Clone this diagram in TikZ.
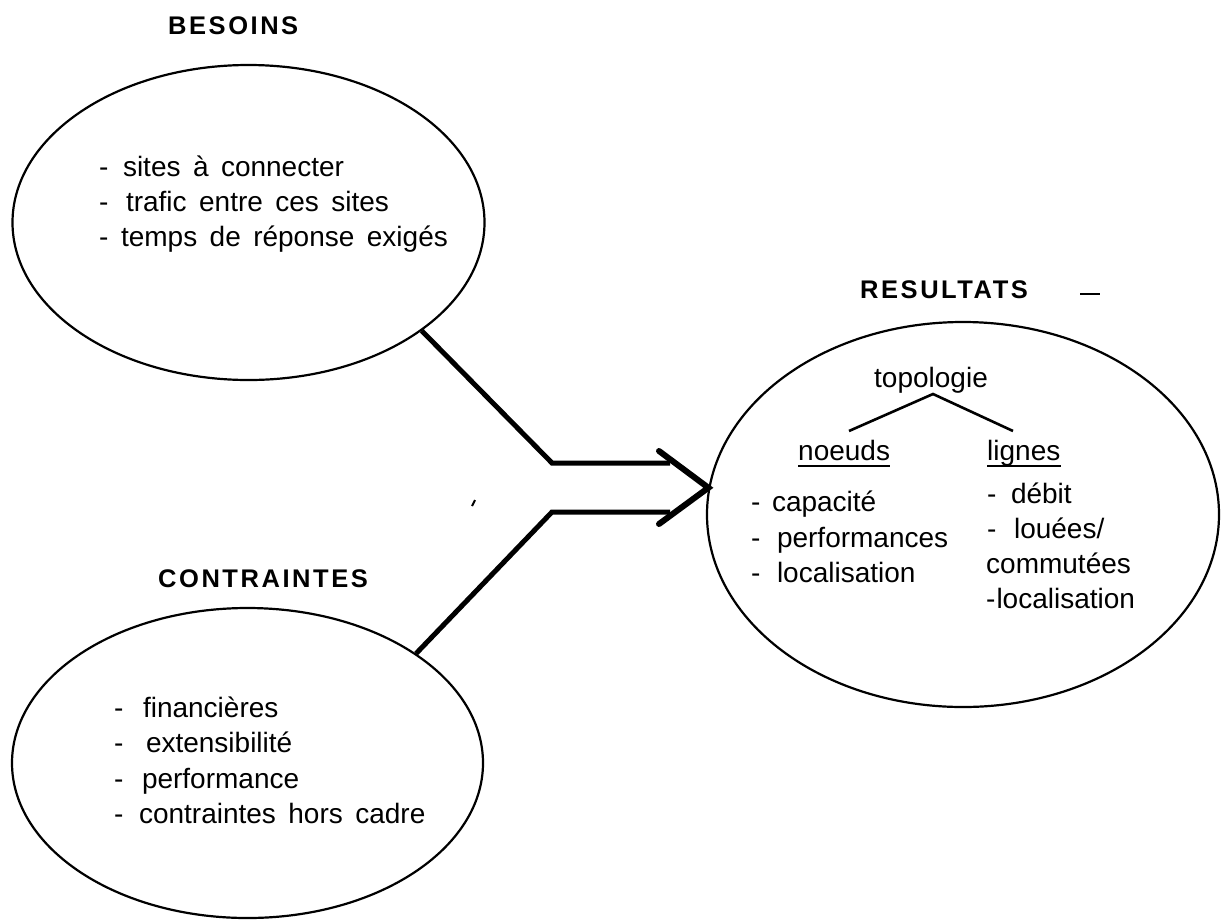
\documentclass[tikz,border=0pt]{standalone}
\usepackage{fontspec}
\setmainfont{Liberation Sans}
\newfontfamily\headfont[LetterSpace=10]{Liberation Sans}
\newfontfamily\bodyfont[WordSpace=1.6]{Liberation Sans}
\usetikzlibrary{shapes.geometric}
\begin{document}
\begin{tikzpicture}[x=1pt,y=-1pt,
  ell/.style={draw, ellipse, line width=2.2pt, inner sep=0pt},
  head/.style={font=\headfont\bfseries\fontsize{25.5}{30}\selectfont, anchor=base west, inner sep=0pt},
  body/.style={font=\bodyfont\fontsize{28}{35}\selectfont, anchor=base west, inner sep=0pt},
  conn/.style={line width=5pt, line join=miter},
  chev/.style={line width=6pt, line cap=round, line join=miter},
  tree/.style={line width=2.6pt},
  uline/.style={line width=1.8pt}]
\useasboundingbox (0,0) rectangle (1221,919);
\fill[white] (0,0) rectangle (1221,919);

% ellipses
\node[ell, minimum width=472pt, minimum height=315pt] (bes) at (248.5,222.5) {};
\node[ell, minimum width=471pt, minimum height=310pt] (con) at (247.5,763) {};
\node[ell, minimum width=512pt, minimum height=385pt] (res) at (963,514.5) {};

% headings
\node[head] (hbes) at (168,34) {BESOINS};
\node[head] (hcon) at (158,587) {CONTRAINTES};
\node[head] (hres) at (860,298) {RESULTATS};
\draw[line width=1.5pt] (1080,294) -- (1100,294);

% besoins
\node[body] (b1) at (99,176) {-\hspace{14.5pt}sites à connecter};
\node[body] (b2) at (99,211) {-\hspace{17.5pt}trafic entre ces sites};
\node[body] (b3) at (99,246) {-\hspace{12.5pt}temps de réponse exigés};

% contraintes
\node[body] (c1t) at (114,717) {-\hspace{19.5pt}financières};
\node[body] (c2t) at (114,752.5) {-\hspace{22.5pt}extensibilité};
\node[body] (c3t) at (114,788) {-\hspace{18.5pt}performance};
\node[body] (c4t) at (114,823) {-\hspace{15.5pt}contraintes hors cadre};

% resultats
\node[body] (topo) at (874,387) {topologie};
\node[body] (nd) at (798,460) {noeuds};
\node[body] (lg) at (987,460) {lignes};
\draw[uline] ([yshift=-6pt]nd.base west) -- ([yshift=-6pt]nd.base east);
\draw[uline] ([yshift=-6pt]lg.base west) -- ([yshift=-6pt]lg.base east);
\coordinate (apex) at (933,394);
\coordinate (tl) at (849,431);
\coordinate (tr) at (1013,431);
\draw[tree] (tl) -- (apex) -- (tr);

\node[body] (r1) at (751,511) {-\hspace{11.5pt}capacité};
\node[body] (r2) at (751,547) {-\hspace{16.5pt}performances};
\node[body] (r3) at (751,582) {-\hspace{16.5pt}localisation};
\node[body] (s1) at (987,503) {-\hspace{14.5pt}débit};
\node[body] (s2) at (987,538) {-\hspace{17.5pt}louées/};
\node[body] (s3) at (986,573) {commutées};
\node[body] (s4) at (986,608) {-\hspace{1pt}localisation};

% connectors
\coordinate (j1) at (552,463);
\coordinate (h1) at (670,463);
\coordinate (j2) at (552,512);
\coordinate (h2) at (670,512);
\coordinate (k1) at (659,451);
\coordinate (k2) at (659,524);
\coordinate (tip) at (res.174);
\draw[conn] (bes.-32) -- (j1) -- (h1);
\draw[conn] (con.33) -- (j2) -- (h2);
\draw[chev] (k1) -- (tip) -- (k2);
\draw[line width=2pt] (472,506) -- (475,500);
\end{tikzpicture}
\end{document}
